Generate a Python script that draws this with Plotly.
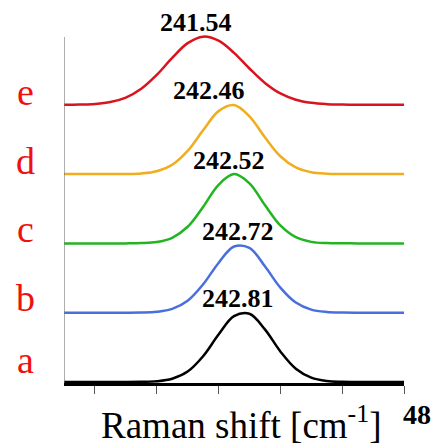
import plotly.graph_objects as go

# ---- data ----
X = [237.0, 237.5, 238.0, 238.5, 239.0, 239.5, 240.0, 240.5, 241.0, 241.5, 242.0,
     242.5, 243.0, 243.5, 244.0, 244.5, 245.0, 245.5, 246.0, 246.5, 247.0, 247.5, 248.0]

curve_a = [0, 0, 0, 0, 0, 0.002, 0.010, 0.046, 0.150, 0.371, 0.684, 0.950, 0.985,
           0.759, 0.441, 0.192, 0.063, 0.015, 0.003, 0, 0, 0, 0]
curve_b = [0, 0, 0, 0, 0, 0.002, 0.013, 0.054, 0.172, 0.408, 0.718, 0.955, 0.935,
           0.669, 0.362, 0.146, 0.044, 0.010, 0.002, 0, 0, 0, 0]
curve_c = [0, 0, 0, 0, 0, 0.004, 0.020, 0.081, 0.240, 0.526, 0.846, 1.000, 0.867,
           0.553, 0.259, 0.089, 0.022, 0.004, 0.001, 0, 0, 0, 0]
curve_d = [0, 0, 0, 0, 0.002, 0.010, 0.042, 0.135, 0.335, 0.632, 0.909, 0.997, 0.833,
           0.531, 0.258, 0.096, 0.027, 0.006, 0.001, 0, 0, 0, 0]
curve_e = [0, 0.004, 0.013, 0.040, 0.105, 0.232, 0.432, 0.677, 0.890, 0.984, 0.925,
           0.750, 0.524, 0.316, 0.164, 0.074, 0.029, 0.010, 0.003, 0, 0, 0, 0]

sample_names = ["a", "b", "c", "d", "e"]
peak_pos = [242.81, 242.72, 242.52, 242.46, 241.54]
peak_height = [1.0, 0.967, 1.0, 1.0, 0.985]
peak_labels = ["242.81", "242.72", "242.52", "242.46", "241.54"]
offsets = [0, 1, 2, 3, 4]

tick_vals = [238, 240, 242, 244, 246, 248]
x_title = "Raman shift [cm<sup>-1</sup>]"

# ---- styles ----
colors = ["#000000", "#4a6fdc", "#22b522", "#f0ad1e", "#d9141e"]
label_xshift = [-6, -3, -6, -24, -8]
letter_yshift = [22, 15, 14, 13, 13]
SERIF = "Liberation Serif, Times New Roman, serif"

curves = [curve_a, curve_b, curve_c, curve_d, curve_e]

fig = go.Figure()
for i, cy in enumerate(curves):
    fig.add_trace(go.Scatter(x=X, y=[v + offsets[i] for v in cy], mode="lines",
                             line=dict(color=colors[i], width=2.5, shape="spline"),
                             showlegend=False, hoverinfo="skip"))

annotations = []
for i in range(5):
    annotations.append(dict(x=peak_pos[i], y=offsets[i] + peak_height[i], xref="x", yref="y",
                            text="<b>%s</b>" % peak_labels[i], showarrow=False,
                            xshift=label_xshift[i], yshift=14, yanchor="middle",
                            font=dict(family=SERIF, size=26, color="black")))
    annotations.append(dict(x=-0.112, y=offsets[i], xref="paper", yref="y",
                            text=sample_names[i], showarrow=False, xanchor="center",
                            yanchor="middle", yshift=letter_yshift[i],
                            font=dict(family=SERIF, size=38, color="#f01010")))

annotations.append(dict(x=0.522, y=-0.113, xref="paper", yref="paper", text=x_title,
                        showarrow=False, xanchor="center", yanchor="middle",
                        font=dict(family=SERIF, size=37, color="black")))
annotations.append(dict(x=1.038, y=-0.088, xref="paper", yref="paper", text="<b>48</b>",
                        showarrow=False, xanchor="center", yanchor="middle",
                        font=dict(family=SERIF, size=28, color="black")))

fig.update_layout(
    width=431, height=435,
    margin=dict(l=56, r=35, t=22, b=60),
    paper_bgcolor="white", plot_bgcolor="white",
    annotations=annotations,
    shapes=[dict(type="line", xref="x", yref="y", x0=237, x1=237, y0=-0.015, y1=4.98,
                 line=dict(color="#777777", width=1.2))],
    xaxis=dict(range=[237, 248], showline=True, linecolor="black", linewidth=2.5,
               ticks="outside", ticklen=8, tickwidth=1.2, tickcolor="#555555",
               tickvals=tick_vals, showticklabels=False, showgrid=False, zeroline=False,
               fixedrange=True),
    yaxis=dict(range=[-0.015, 5.08], showline=False, showticklabels=False, ticks="",
               showgrid=False, zeroline=False, fixedrange=True),
)

fig.write_html("out.html")
